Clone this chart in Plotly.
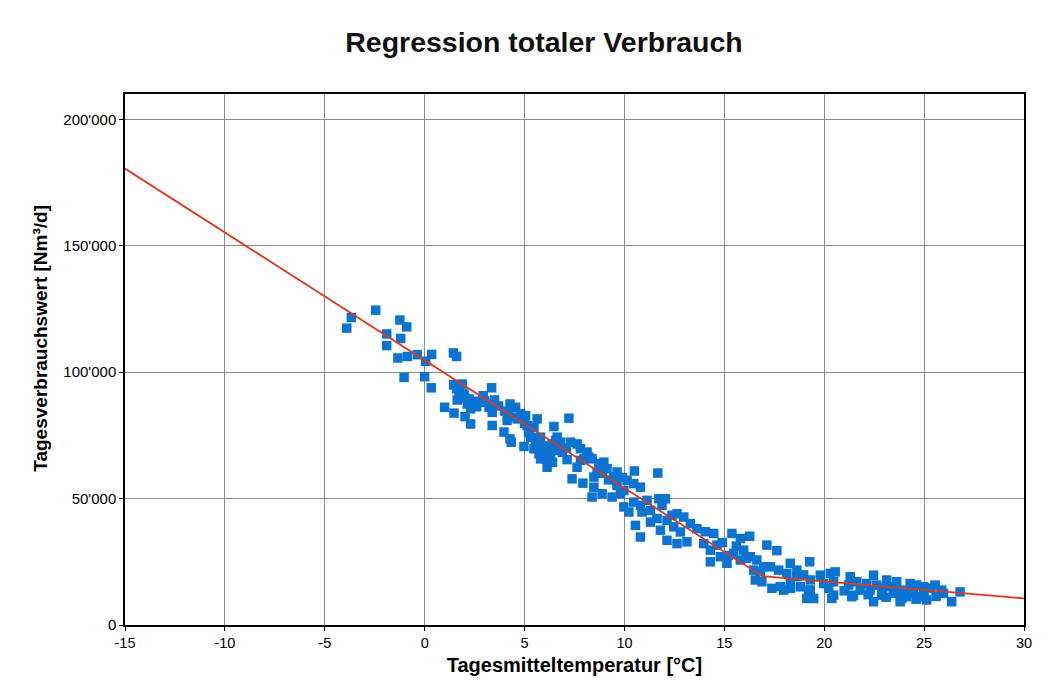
import plotly.graph_objects as go

# Tagesmitteltemperatur [°C] und Tagesverbrauch [1000 Nm3/d]
temp = [
    -3.67, -3.9, -2.45, -1.24, -0.9, -1.9, -1.2, -1.9, -1.34, -0.87,
    -0.37, 0.35, 0.05, 1.44, 1.6, -1.03, 0.0, 0.33, 1.45, 1.6,
    1.47, 1.88, 1.72, 1.97, 1.63, 2.22, 2.38, 2.55, 2.8, 2.93,
    2.3, 2.13, 3.35, 3.5, 3.22, 3.38, 3.3, 1.0, 1.47, 2.02,
    2.3, 3.38, 4.27, 4.55, 4.22, 4.38, 4.63, 4.13, 4.8, 5.05,
    3.97, 4.27, 4.33, 4.97, 5.13, 5.47, 5.63, 5.3, 5.55, 5.8,
    5.47, 5.72, 5.97, 6.13, 6.38, 6.55, 6.3, 6.05, 5.8, 6.13,
    6.47, 6.63, 6.8, 6.47, 7.22, 7.3, 7.63, 7.8, 8.13, 8.22,
    7.97, 7.63, 7.8, 7.13, 8.38, 7.38, 7.92, 8.47, 8.47, 8.63,
    8.38,
    8.97, 9.13, 9.63, 9.47, 8.88, 9.38, 9.8, 8.72, 10.13, 10.47,
    10.8, 9.97, 9.63, 10.5, 11.67, 9.97, 10.22, 10.47, 10.8, 11.13,
    10.88, 11.3, 11.72, 12.05, 11.88, 10.55, 10.8, 11.3, 11.63, 11.8,
    12.13, 12.63, 13.13, 12.47, 12.8, 12.13, 12.38, 12.63, 12.97, 13.3,
    13.63,
    14.05, 14.47, 13.97, 14.3, 14.63, 14.3, 14.8, 15.13, 15.38, 15.8,
    16.27, 15.47, 15.97, 16.3, 15.8, 16.63, 17.13, 17.63, 16.47, 16.8,
    16.97, 16.55, 16.88, 17.38, 17.8, 17.72, 18.3, 18.13, 18.63, 18.97,
    18.3, 17.97, 19.13, 19.22,
    18.3, 18.8, 19.3, 18.63, 17.3,
    19.27, 19.3, 19.47,
    19.8, 19.97, 20.3, 20.47, 20.22, 20.47, 20.38, 21.3, 21.22, 21.63,
    21.47, 21.8, 21.38, 22.13, 22.47, 22.3, 22.63, 22.88, 22.47, 23.13,
    23.3, 23.63, 23.47, 23.8, 23.88, 24.3, 24.63, 24.97, 24.47, 24.88,
    25.13, 24.13, 23.8, 25.55, 25.88, 25.97, 26.38, 26.8, 20.55,
    5.2, 5.9, 6.2, 6.7, 5.6, 6.9, 7.1, 6.4, 5.0,
    2.6, 3.0, 3.7, 2.0, 4.0,
    8.9, 9.2, 9.9,
    14.9, 15.6, 16.1, 15.2,
    22.9, 23.6, 24.2, 25.0, 25.3, 24.6, 23.1, 22.2, 21.0, 25.6,
]
verbrauch_k = [
    121.6, 117.4, 124.5, 120.6, 117.9, 115.1, 113.3, 110.5, 105.6, 106.2,
    106.9, 107.0, 104.3, 107.6, 106.2, 97.9, 98.2, 93.8, 95.0, 93.4,
    95.1, 95.3, 92.0, 91.4, 89.0, 89.4, 87.4, 88.5, 88.1, 90.7,
    85.5, 87.4, 93.8, 89.0, 86.1, 84.1, 87.4, 86.1, 83.8, 82.4,
    79.5, 78.9, 87.4, 86.1, 84.1, 82.2, 81.5, 80.9, 83.5, 82.8,
    76.3, 73.6, 72.3, 70.6, 78.9, 78.2, 81.5, 74.3, 72.3, 74.3,
    69.7, 67.7, 68.4, 70.3, 71.6, 73.0, 66.4, 65.7, 65.7, 62.4,
    78.5, 74.3, 72.3, 69.0, 81.8, 72.3, 71.6, 69.7, 68.4, 66.4,
    65.7, 62.4, 65.1, 65.4, 65.7, 57.8, 56.1, 54.5, 58.5, 60.5,
    50.6,
    64.4, 61.8, 60.5, 58.5, 51.9, 50.6, 51.9, 63.8, 57.2, 55.9,
    54.5, 53.2, 55.2, 60.9, 60.1, 46.7, 44.7, 48.6, 47.3, 49.3,
    44.7, 45.3, 49.9, 49.9, 47.3, 39.4, 34.8, 40.7, 42.1, 37.5,
    33.5, 32.2, 32.9, 38.8, 36.8, 41.4, 43.4, 44.0, 42.7, 40.1,
    38.1,
    36.9, 36.2, 32.2, 29.6, 31.6, 25.0, 27.0, 24.4, 36.2, 34.2,
    35.1, 28.3, 29.6, 27.0, 25.7, 25.7, 31.6, 29.4, 21.7, 21.1,
    23.0, 17.8, 17.1, 14.5, 15.2, 21.7, 24.4, 20.4, 19.1, 19.8,
    14.5, 13.8, 10.5, 13.8,
    16.4, 15.1, 17.8, 21.7, 23.0,
    25.0, 13.8, 10.5,
    19.7, 16.4, 20.4, 17.1, 14.5, 11.8, 10.5, 19.1, 15.8, 17.1,
    11.8, 13.8, 11.2, 16.4, 19.7, 13.8, 15.8, 11.8, 9.2, 17.8,
    15.1, 17.1, 12.5, 13.8, 10.5, 16.4, 15.8, 15.1, 12.5, 11.2,
    9.9, 11.2, 9.2, 15.8, 13.8, 12.5, 9.2, 13.1, 21.0,
    76.0, 70.8, 67.9, 70.5, 73.9, 68.3, 70.0, 64.3, 79.8,
    86.3, 88.6, 86.6, 90.0, 84.6,
    60.0, 57.4, 58.3,
    32.6, 31.2, 26.4, 27.5,
    14.6, 14.3, 13.5, 13.0, 14.6, 10.2, 11.0, 12.0, 13.5, 11.3,
]
verbrauch = [v * 1000 for v in verbrauch_k]

# Regressionsgerade (stückweise linear)
fit_x = [-15, 16.9, 30]
fit_y = [180500, 19300, 10500]

x_ticks = list(range(-15, 31, 5))
y_ticks = [0, 50000, 100000, 150000, 200000]
y_ticktext = ["0", "50'000", "100'000", "150'000", "200'000"]

fig = go.Figure()
fig.add_trace(go.Scatter(
    x=temp, y=verbrauch, mode="markers",
    marker=dict(symbol="square", size=9.5, color="#0b73d1", line=dict(width=0)),
    showlegend=False,
))
fig.add_trace(go.Scatter(
    x=fit_x, y=fit_y, mode="lines",
    line=dict(color="#dc3a1e", width=1.8),
    showlegend=False,
))

font = "Liberation Sans, Arial, sans-serif"
fig.update_layout(
    width=1050, height=684,
    margin=dict(l=117, r=34, t=86, b=67),
    paper_bgcolor="white", plot_bgcolor="white",
    font=dict(family=font, color="black", size=15),
    title=dict(
        text="Regression totaler Verbrauch",
        x=536 / 1050, xref="container", xanchor="center",
        y=1 - 34 / 684, yref="container", yanchor="middle",
        font=dict(size=28.5, weight="bold", family=font, color="#111"),
    ),
)
# y-Achsentitel als Annotation, damit er wie im Original etwas oberhalb der Mitte sitzt
fig.add_annotation(
    text="Tagesverbrauchswert [Nm³/d]", textangle=-90,
    xref="paper", yref="paper", x=-0.094, y=0.54,
    xanchor="center", yanchor="middle", showarrow=False,
    font=dict(size=19, weight="bold", family=font, color="black"),
)
fig.update_xaxes(
    range=[-15, 30], tickvals=x_ticks, ticktext=[str(t) for t in x_ticks],
    showgrid=True, gridcolor="#8c8c8c", gridwidth=1, zeroline=False,
    showline=True, mirror=True, linecolor="black", linewidth=1.5,
    ticks="outside", ticklen=4, tickcolor="black",
    tickfont=dict(size=14.5),
    title=dict(text="Tagesmitteltemperatur [°C]", standoff=8,
               font=dict(size=20, weight="bold")),
)
fig.update_yaxes(
    range=[0, 210000], tickvals=y_ticks, ticktext=y_ticktext,
    showgrid=True, gridcolor="#8c8c8c", gridwidth=1, zeroline=False,
    showline=True, mirror=True, linecolor="black", linewidth=1.5,
    ticks="outside", ticklen=4, tickcolor="black",
    tickfont=dict(size=15),
)

fig.write_html("out.html")
